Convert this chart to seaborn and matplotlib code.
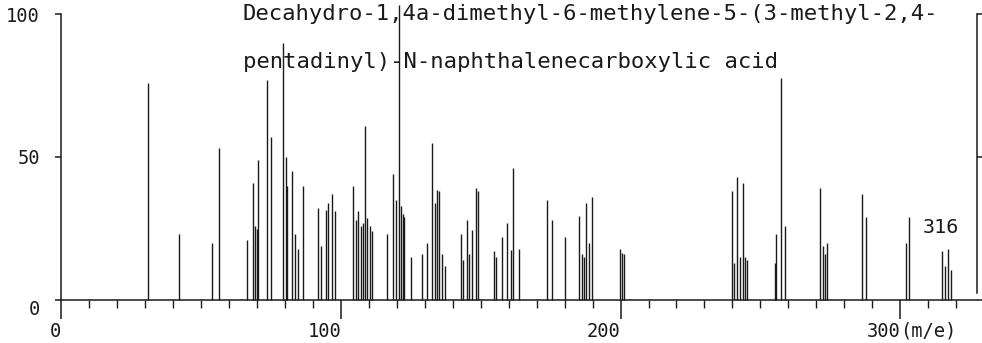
import matplotlib
matplotlib.use("Agg")
import matplotlib.pyplot as plt
from matplotlib.ticker import MultipleLocator
import seaborn as sns

# peaks (m/e, relative intensity)
mz = [31.0, 42.1, 54.0, 56.4, 66.5, 68.6, 69.3, 69.9, 70.4, 73.4, 74.8,
      79.4, 80.2, 80.7, 82.4, 83.5, 84.5, 86.5, 91.9, 92.8, 94.5, 95.5,
      96.7, 97.9, 104.4, 105.4, 106.2, 107.1, 108.0, 108.6, 109.4, 110.4,
      111.0, 116.4, 118.5, 119.7, 120.7, 121.3, 122.0, 122.5, 125.0,
      128.9, 130.9, 132.7, 133.6, 134.5, 135.2, 136.1, 137.2, 142.9,
      143.7, 145.0, 145.8, 147.0, 148.2, 148.9, 154.7, 155.5, 157.5,
      159.3, 160.8, 161.6, 163.7, 173.6, 175.6, 180.1, 185.3, 186.3,
      186.9, 187.5, 188.7, 189.6, 199.8, 200.4, 201.3, 239.8, 240.6,
      241.6, 242.8, 243.9, 244.6, 245.2, 255.3, 255.6, 257.4, 258.9,
      271.4, 272.4, 273.2, 274.0, 286.5, 287.8, 302.0, 303.0, 314.9,
      316.1, 317.0, 318.2]
intensity = [76, 23, 20, 53, 21, 41, 26, 25, 49, 77, 57,
             90, 50, 40, 45, 23, 18, 40, 32, 19, 31.5, 34,
             37, 31, 40, 28, 31, 26, 27, 61, 28.6, 26,
             24, 23, 44, 35, 103, 33, 30, 29, 15,
             16, 20, 55, 34, 38.5, 38, 16, 12, 23,
             14, 28, 16, 24.5, 39, 38, 17, 15, 22,
             27, 17.5, 46, 18, 35, 28, 22, 29.5, 16,
             15, 34, 20, 36, 18, 16.5, 16, 38, 13,
             43, 15, 41, 15, 14, 13, 23, 77.5, 26,
             39, 19, 16, 20, 37, 29, 20, 29, 17,
             12, 18, 10.5]

title_line1 = "Decahydro-1,4a-dimethyl-6-methylene-5-(3-methyl-2,4-"
title_line2 = "pentadinyl)-N-naphthalenecarboxylic acid"
x_ticks = [0, 100, 200, 300]
x_labels = ["0", "100", "200", "300"]
y_ticks = [0, 50, 100]
y_labels = ["0", "50", "100"]
mol_ion = "316"

sns.set_style("ticks")
plt.rcParams['font.family'] = ['DejaVu Sans Mono', 'DejaVu Sans']

ink = '#1a1a1a'
fig = plt.figure(figsize=(9.82, 3.43), dpi=100)
ax = fig.add_axes([61.5 / 982, 43 / 343, (977 - 61.5) / 982, 286 / 343])

ax.vlines(mz, 0, intensity, colors=ink, linewidth=1.0, clip_on=False)

ax.set_xlim(0, 327.5)
ax.set_ylim(0, 100)

for side in ['left', 'bottom', 'right']:
    ax.spines[side].set_color(ink)
    ax.spines[side].set_linewidth(1.1)
ax.spines['top'].set_visible(False)
ax.spines['right'].set_bounds(2.5, 100)

ax.set_xticks(x_ticks, x_labels)
ax.xaxis.set_minor_locator(MultipleLocator(10))
ax.set_yticks(y_ticks, y_labels)
ax.tick_params(axis='x', which='major', direction='out', length=14,
               width=1.1, color=ink, pad=1.5, labelsize=13.5, labelcolor=ink)
ax.tick_params(axis='x', which='minor', direction='out', length=5.5,
               width=1.0, color=ink)
ax.tick_params(axis='y', which='major', direction='out', length=4.5,
               width=1.1, color=ink, pad=11, labelsize=13.5, labelcolor=ink,
               right=True)
for lab in ax.get_xticklabels():
    lab.set_ha('right')
ax.get_yticklabels()[0].set_va('top')

ax.text(300, -7.6, "(m/e)", ha='left', va='top', fontsize=13.5, color=ink)
ax.text(314.7, 25.5, mol_ion, ha='center', va='center', fontsize=14.5,
        color=ink)

fig.text(243 / 982, 1 - 20 / 343, title_line1, ha='left', va='baseline',
         fontsize=16, color=ink)
fig.text(243 / 982, 1 - 68 / 343, title_line2, ha='left', va='baseline',
         fontsize=16, color=ink)

fig.savefig('out.png', dpi=100)
